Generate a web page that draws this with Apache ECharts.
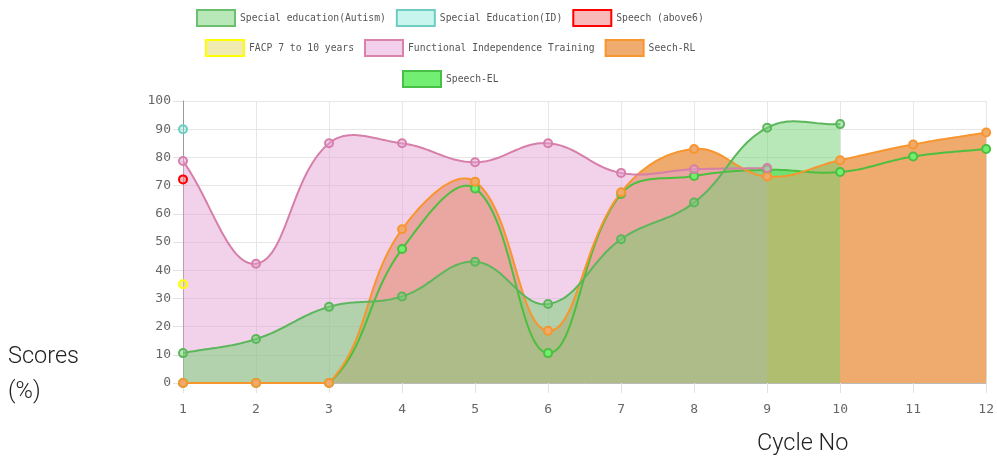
<!DOCTYPE html>
<html>
<head>
<meta charset="utf-8">
<script src="https://cdn.jsdelivr.net/npm/echarts@6/dist/echarts.min.js"></script>
<style>
  html, body { margin: 0; padding: 0; background: #fff; }
  #chart { width: 997px; height: 462px; }
</style>
</head>
<body>
<div id="chart"></div>
<script>
// chart values
var cycles = ['1', '2', '3', '4', '5', '6', '7', '8', '9', '10', '11', '12'];
var autism = [10.6, 15.6, 27, 30.7, 43, 28, 51, 64, 90.5, 91.8, null, null];
var specialEdId = [90, null, null, null, null, null, null, null, null, null, null, null];
var speechAbove6 = [72.2, null, null, null, null, null, null, null, null, null, null, null];
var facp = [35, null, null, null, null, null, null, null, null, null, null, null];
var fit = [78.7, 42.3, 85, 85, 78.3, 85, 74.5, 75.8, 76.2, null, null, null];
var speechRL = [0, 0, 0, 54.5, 71.4, 18.5, 67.6, 83, 73.2, 79, 84.6, 88.8];
var speechEL = [0, 0, 0, 47.5, 69, 10.6, 67, 73.4, 75.6, 74.8, 80.3, 83];
var yTicks = { min: 0, max: 100, step: 10 };

var names = ['Special education(Autism)', 'Special Education(ID)', 'Speech (above6)',
  'FACP 7 to 10 years', 'Functional Independence Training', 'Seech-RL', 'Speech-EL'];
var values = [autism, specialEdId, speechAbove6, facp, fit, speechRL, speechEL];

// styles: line colour, area colour, legend box colour
var looks = [
  { line: '#5cb65c', area: 'rgba(113,209,113,0.5)', box: '#b8e8b8', boxLine: '#6cbf6c' },
  { line: '#6ecdc0', area: 'rgba(120,230,210,0.4)', box: '#c8f5ee', boxLine: '#6ecdc0' },
  { line: '#ff0000', area: 'rgba(240,110,110,0.5)', box: '#f9b9b9', boxLine: '#ff0000' },
  { line: '#ffff00', area: 'rgba(225,215,100,0.5)', box: '#f0ebb0', boxLine: '#ffff00' },
  { line: '#d67fa8', area: 'rgba(228,164,214,0.49)', box: '#f2d0eb', boxLine: '#d982aa' },
  { line: '#f7962f', area: '#efaa6e', box: '#f0ab6e', boxLine: '#f8952e' },
  { line: '#4cbf3f', area: '#72ef72', box: '#72ef72', boxLine: '#48c048' }
];

var TENSION = 0.4;

// chart.js style spline through pixel points, sampled into a polyline
function sampleRun(p, rect) {
  if (p.length < 2) return null;
  function clampX(v) { return Math.max(rect.x, Math.min(rect.x + rect.width, v)); }
  function clampY(v) { return Math.max(rect.y, Math.min(rect.y + rect.height, v)); }
  var cps = p.map(function (c, i) {
    var prev = p[i - 1] || c, next = p[i + 1] || c;
    var d01 = Math.hypot(c[0] - prev[0], c[1] - prev[1]);
    var d12 = Math.hypot(next[0] - c[0], next[1] - c[1]);
    var s01 = d01 / (d01 + d12) || 0, s12 = d12 / (d01 + d12) || 0;
    var fa = TENSION * s01, fb = TENSION * s12;
    return {
      px: clampX(c[0] - fa * (next[0] - prev[0])), py: clampY(c[1] - fa * (next[1] - prev[1])),
      nx: clampX(c[0] + fb * (next[0] - prev[0])), ny: clampY(c[1] + fb * (next[1] - prev[1]))
    };
  });
  var out = [p[0]];
  var N = 30;
  for (var i = 0; i < p.length - 1; i++) {
    var a = p[i], b = p[i + 1];
    var c1 = [cps[i].nx, cps[i].ny], c2 = [cps[i + 1].px, cps[i + 1].py];
    for (var s = 1; s <= N; s++) {
      var t = s / N, u = 1 - t;
      out.push([
        u * u * u * a[0] + 3 * u * u * t * c1[0] + 3 * u * t * t * c2[0] + t * t * t * b[0],
        u * u * u * a[1] + 3 * u * u * t * c1[1] + 3 * u * t * t * c2[1] + t * t * t * b[1]
      ]);
    }
  }
  return out;
}

function makeRender(arr, look, asArea) {
  return function (params, api) {
    if (params.dataIndex !== 0) return null;
    var rect = params.coordSys;
    var baseY = api.coord([0, 0])[1];
    var runs = [], cur = [];
    for (var i = 0; i < arr.length; i++) {
      if (arr[i] == null) {
        if (cur.length) runs.push(cur);
        cur = [];
      } else {
        cur.push(api.coord([i, arr[i]]));
      }
    }
    if (cur.length) runs.push(cur);
    var children = [];
    runs.forEach(function (run) {
      var pts = sampleRun(run, rect);
      if (!pts) return;
      if (asArea) {
        var poly = pts.slice();
        poly.push([pts[pts.length - 1][0], baseY]);
        poly.push([pts[0][0], baseY]);
        children.push({ type: 'polygon', shape: { points: poly }, style: { fill: look.area } });
      } else {
        children.push({ type: 'polyline', shape: { points: pts }, style: { stroke: look.line, lineWidth: 2, fill: null } });
      }
    });
    return { type: 'group', children: children };
  };
}

var chart = echarts.init(document.getElementById('chart'));

var areaSeries = [], lineSeries = [], pointSeries = [];
// chart.js draws the last dataset first, so go backwards
for (var i = names.length - 1; i >= 0; i--) {
  var pairs = values[i].map(function (v, k) { return [k, v]; });
  areaSeries.push({
    name: names[i], type: 'custom', z: 1, silent: true,
    data: pairs, encode: { x: 0, y: 1 },
    itemStyle: { color: looks[i].line },
    renderItem: makeRender(values[i], looks[i], true)
  });
  lineSeries.push({
    name: names[i], type: 'custom', z: 2, silent: true,
    data: pairs, encode: { x: 0, y: 1 },
    itemStyle: { color: looks[i].line },
    renderItem: makeRender(values[i], looks[i], false)
  });
  pointSeries.push({
    name: names[i], type: 'scatter', z: 3,
    data: pairs.filter(function (d) { return d[1] != null; }),
    symbol: 'circle', symbolSize: 8,
    itemStyle: { color: looks[i].area, borderColor: looks[i].line, borderWidth: 2, opacity: 1 }
  });
}

function legendRow(idx, left, top) {
  return {
    data: idx.map(function (k) {
      return {
        name: names[k],
        itemStyle: { color: looks[k].box, borderColor: looks[k].boxLine, borderWidth: 2 }
      };
    }),
    left: left,
    top: top,
    padding: 0,
    icon: 'rect',
    itemWidth: 38,
    itemHeight: 16,
    itemGap: 10,
    selectedMode: false,
    textStyle: { fontFamily: 'DejaVu Sans Mono', fontSize: 9.7, color: '#555' }
  };
}

var option = {
  animation: false,
  legend: [
    legendRow([0, 1, 2], 196, 9),
    legendRow([3, 4, 5], 205, 39),
    legendRow([6], 402, 70)
  ],
  grid: { left: 183, right: 9, top: 101, bottom: 79 },
  xAxis: {
    type: 'category',
    boundaryGap: false,
    data: cycles,
    axisLine: { show: true, lineStyle: { color: '#bbb' } },
    axisTick: { show: true, length: 10, lineStyle: { color: '#e2e2e2' } },
    splitLine: { show: true, lineStyle: { color: '#e6e6e6' } },
    axisLabel: { color: '#666', fontFamily: 'DejaVu Sans Mono', fontSize: 13, margin: 20 }
  },
  yAxis: {
    type: 'value',
    min: yTicks.min,
    max: yTicks.max,
    interval: yTicks.step,
    axisLine: { show: true, lineStyle: { color: '#999' } },
    axisTick: { show: true, length: 10, lineStyle: { color: '#e2e2e2' } },
    splitLine: { show: true, lineStyle: { color: '#e6e6e6' } },
    axisLabel: { color: '#666', fontFamily: 'DejaVu Sans Mono', fontSize: 13, margin: 12 }
  },
  graphic: [
    {
      type: 'text', left: 8, top: 340,
      style: { text: 'Scores\n(%)', fontFamily: 'Roboto', fontWeight: 300, fontSize: 23.5, lineHeight: 35, fill: '#222' }
    },
    {
      type: 'text', left: 757, top: 432,
      style: { text: 'Cycle No', fontFamily: 'Roboto', fontWeight: 300, fontSize: 23.5, lineHeight: 25, fill: '#222' }
    }
  ],
  series: areaSeries.concat(lineSeries, pointSeries)
};

chart.setOption(option);
</script>
</body>
</html>
